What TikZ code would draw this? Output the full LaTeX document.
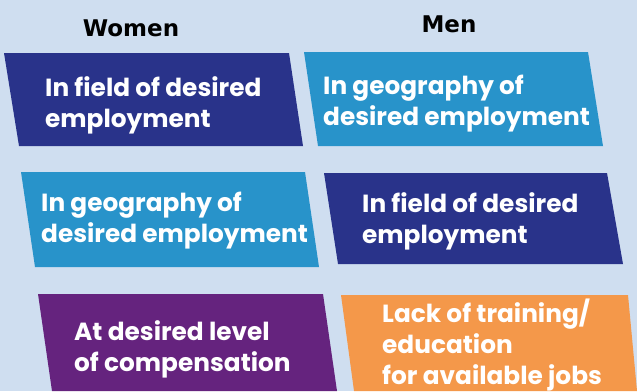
\documentclass[tikz,border=0pt]{standalone}
\usepackage{fontspec}
\setmainfont{Poppins}
\newfontfamily\headfont{DejaVu Sans}
\definecolor{bgblue}{HTML}{CFDEF0}
\definecolor{darkblue}{HTML}{29338A}
\definecolor{lightblue}{HTML}{2893CA}
\definecolor{purplebox}{HTML}{65237E}
\definecolor{orangebox}{HTML}{F4984A}
\tikzset{
  heading/.style={font=\headfont\bfseries\fontsize{23}{27}\selectfont, text=black, inner sep=0pt, anchor=base},
  boxtext/.style={font=\bfseries\fontsize{24.8}{31}\selectfont, text=white, inner sep=0pt, anchor=base west, align=left},
}
\begin{document}
\begin{tikzpicture}[x=1pt, y=-1pt]
\fill[bgblue] (0,0) rectangle (637,391);
\useasboundingbox (0,0) rectangle (637,391);
% boxes
\fill[darkblue]  (4,53) -- (289,53) -- (303,146) -- (19,146) -- cycle;
\fill[lightblue] (304,52) -- (588,52) -- (603,146) -- (318,146) -- cycle;
\fill[lightblue] (21,172) -- (305,172) -- (319,267) -- (35,267) -- cycle;
\fill[darkblue]  (324,173) -- (607,173) -- (623,264) -- (338,264) -- cycle;
\fill[purplebox] (38,294) -- (323,294) -- (337,391) -- (52,391) -- cycle;
\fill[orangebox] (341,295) -- (628,295) -- (637,391) -- (354,391) -- cycle;
% headings
\node[heading] (women) at (131,36) {Women};
\node[heading] (men) at (449,32) {Men};
% texts (anchored at the baseline of the last line)
\node[boxtext] (w1) at (45,127) {In field of desired\\employment};
\node[boxtext] (m1) at (323,125) {In geography of\\desired employment};
\node[boxtext] (w2) at (41,242) {In geography of\\desired employment};
\node[boxtext] (m2) at (362,243) {In field of desired\\employment};
\node[boxtext] (w3) at (74,371) {At desired level\\of compensation};
\node[boxtext] (m3) at (382,384) {Lack of training/\\education\\for available jobs};
\end{tikzpicture}
\end{document}
